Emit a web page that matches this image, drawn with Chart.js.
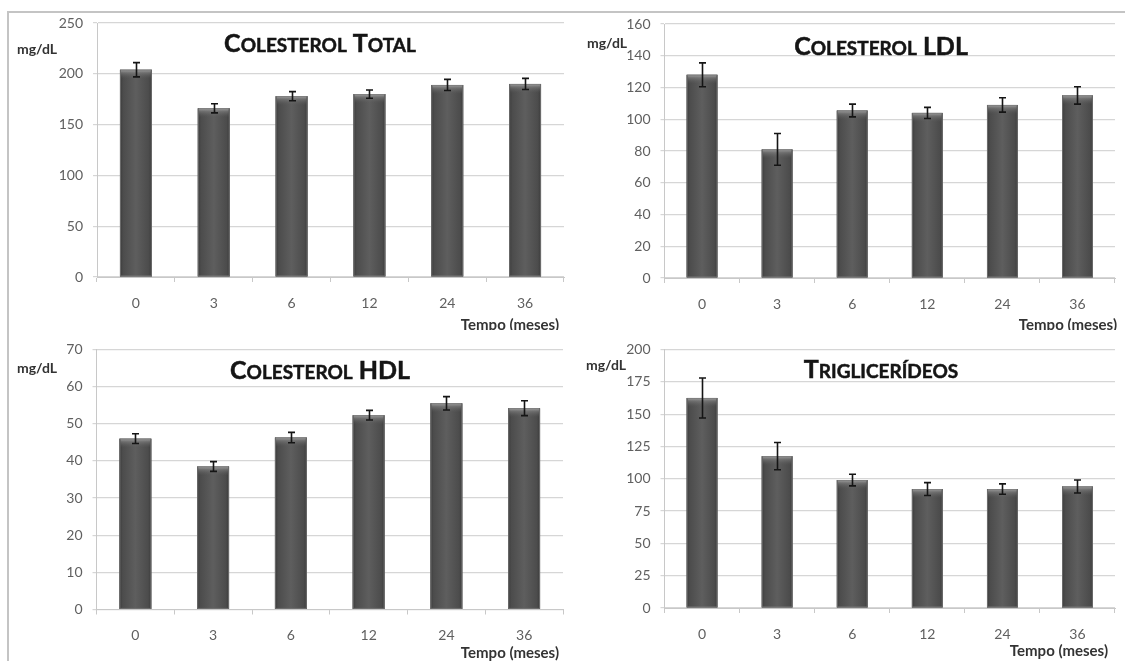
<!DOCTYPE html>
<html>
<head>
<meta charset="utf-8">
<script src="https://cdn.jsdelivr.net/npm/chart.js@4/dist/chart.umd.min.js"></script>
<style>
  html, body { margin: 0; padding: 0; background: #ffffff; }
  #wrap { position: relative; width: 1125px; height: 661px; overflow: hidden; background: #fff; }
  #frame { position: absolute; left: 7px; top: 11px; width: 1130px; height: 700px;
           border-top: 2px solid #c4c4c4; border-left: 2px solid #c4c4c4; }
  canvas { position: absolute; }
</style>
</head>
<body>
<div id="wrap">
  <div id="frame"></div>
  <canvas id="c1" width="570" height="330" style="left:0px;top:0px;width:570px;height:330px"></canvas>
  <canvas id="c2" width="565" height="330" style="left:560px;top:0px;width:565px;height:330px"></canvas>
  <canvas id="c3" width="570" height="331" style="left:0px;top:330px;width:570px;height:331px"></canvas>
  <canvas id="c4" width="565" height="331" style="left:560px;top:330px;width:565px;height:331px"></canvas>
</div>
<script>
// ---- data ----
const months = ['0', '3', '6', '12', '24', '36'];

const totalMeans = [204, 166, 178, 180, 189, 190];
const totalErrors = [7, 4.5, 4.5, 4, 5.5, 5.5];

const ldlMeans = [128, 81, 105.5, 104, 109, 115];
const ldlErrors = [7.5, 10, 4, 3.5, 4.5, 5.5];

const hdlMeans = [46, 38.5, 46.3, 52.3, 55.5, 54.2];
const hdlErrors = [1.3, 1.3, 1.4, 1.3, 1.8, 2];

const trigMeans = [162.5, 117.5, 99, 92, 92, 94];
const trigErrors = [15.5, 10.5, 4.5, 5, 4, 5];

const titles = ['Colesterol Total', 'Colesterol LDL', 'Colesterol HDL', 'Triglicerídeos'];
const unitLabel = 'mg/dL';
const xAxisLabel = 'Tempo (meses)';
const yMax = [250, 160, 70, 200];
const yStep = [50, 20, 10, 25];

const FAMILY = 'Lato, "Open Sans", sans-serif';

function drawSmallCaps(ctx, text, cx, cy, big, small) {
  const runs = [];
  for (const ch of text) {
    const up = ch.toUpperCase();
    const sz = (ch !== up) ? small : big;
    if (runs.length && runs[runs.length - 1].s === sz) runs[runs.length - 1].t += up;
    else runs.push({ t: up, s: sz });
  }
  let total = 0;
  runs.forEach(r => { ctx.font = `bold ${r.s}px ${FAMILY}`; r.w = ctx.measureText(r.t).width; total += r.w; });
  let x = cx - total / 2;
  const base = cy + big * 0.36;
  ctx.textBaseline = 'alphabetic';
  ctx.textAlign = 'left';
  runs.forEach(r => {
    ctx.font = `bold ${r.s}px ${FAMILY}`;
    ctx.fillText(r.t, x, base);
    ctx.lineWidth = 0.5;
    ctx.strokeStyle = ctx.fillStyle;
    ctx.strokeText(r.t, x, base);
    x += r.w;
  });
}

const decorPlugin = {
  id: 'decor',
  afterDatasetsDraw(chart, args, opts) {
    const ctx = chart.ctx;
    const meta = chart.getDatasetMeta(0);
    const yScale = chart.scales.y;
    ctx.save();
    // bar shading
    meta.data.forEach(el => {
      const p = el.getProps(['x', 'y', 'base', 'width'], true);
      const l = p.x - p.width / 2, w = p.width, h = p.base - p.y;
      const g = ctx.createLinearGradient(l, 0, l + w, 0);
      g.addColorStop(0, '#3b3b3b');
      g.addColorStop(0.1, '#4c4c4c');
      g.addColorStop(0.5, '#5e5e5e');
      g.addColorStop(0.9, '#4c4c4c');
      g.addColorStop(1, '#3b3b3b');
      ctx.fillStyle = g;
      ctx.fillRect(l, p.y, w, h);
      const g2 = ctx.createLinearGradient(0, p.y, 0, p.y + 9);
      g2.addColorStop(0, 'rgba(170,170,170,0.95)');
      g2.addColorStop(0.35, 'rgba(130,130,130,0.6)');
      g2.addColorStop(1, 'rgba(95,95,95,0)');
      ctx.fillStyle = g2;
      ctx.fillRect(l + 1, p.y, w - 2, 9);
      ctx.strokeStyle = 'rgba(120,120,120,0.8)';
      ctx.lineWidth = 1;
      ctx.strokeRect(l + 0.5, p.y + 0.5, w - 1, h - 1);
    });
    // error bars
    const errs = opts.errors;
    const vals = chart.data.datasets[0].data;
    ctx.strokeStyle = '#151515';
    ctx.lineWidth = 1.6;
    meta.data.forEach((el, i) => {
      const x = Math.round(el.x) + 0.5;
      const yTop = yScale.getPixelForValue(vals[i] + errs[i]);
      const yBot = yScale.getPixelForValue(vals[i] - errs[i]);
      ctx.beginPath();
      ctx.moveTo(x, yTop); ctx.lineTo(x, yBot);
      ctx.moveTo(x - 3.5, yTop); ctx.lineTo(x + 3.5, yTop);
      ctx.moveTo(x - 3.5, yBot); ctx.lineTo(x + 3.5, yBot);
      ctx.stroke();
    });
    // texts
    ctx.fillStyle = '#151515';
    drawSmallCaps(ctx, opts.title, opts.titleX, opts.titleY, 25, 19);
    ctx.fillStyle = '#333333';
    ctx.font = `bold 14px ${FAMILY}`;
    ctx.textAlign = 'left';
    ctx.textBaseline = 'middle';
    ctx.fillText(unitLabel, opts.unitX, opts.unitY);
    ctx.font = `bold 15px ${FAMILY}`;
    ctx.textAlign = 'right';
    ctx.fillText(xAxisLabel, opts.tempoX, opts.tempoY);
    ctx.restore();
  }
};

function makeChart(id, means, errors, k, area, deco) {
  const cv = document.getElementById(id);
  const W = cv.width, H = cv.height;
  return new Chart(cv, {
    type: 'bar',
    data: {
      labels: months,
      datasets: [{
        data: means,
        backgroundColor: '#555555',
        borderWidth: 0,
        barPercentage: 0.41,
        categoryPercentage: 1.0
      }]
    },
    options: {
      responsive: false,
      animation: false,
      events: [],
      layout: { padding: { left: 0, right: W - area.right, top: area.top, bottom: 0 } },
      plugins: {
        legend: { display: false },
        title: { display: false },
        tooltip: { enabled: false },
        decor: Object.assign({ errors: errors, title: titles[k] }, deco)
      },
      scales: {
        x: {
          grid: { display: true, drawOnChartArea: false, drawTicks: true, tickLength: 5, offset: true, color: '#c8c8c8' },
          border: { display: true, color: '#c8c8c8', width: 1 },
          ticks: { color: '#606060', font: { family: FAMILY, size: 14 }, padding: 13, maxRotation: 0 },
          afterFit(s) { s.height = H - area.bottom; }
        },
        y: {
          min: 0,
          max: yMax[k],
          ticks: { stepSize: yStep[k], color: '#606060', font: { family: FAMILY, size: 14 }, padding: 10 },
          grid: { color: '#d6d6d6', lineWidth: 1.2, tickLength: 4, drawTicks: true },
          border: { display: true, color: '#c8c8c8', width: 1 },
          afterFit(s) { s.width = area.left; }
        }
      }
    },
    plugins: [decorPlugin]
  });
}

makeChart('c1', totalMeans, totalErrors, 0,
  { left: 97, right: 564, top: 23, bottom: 277 },
  { titleX: 320, titleY: 43, unitX: 17, unitY: 49, tempoX: 559, tempoY: 325 });
makeChart('c2', ldlMeans, ldlErrors, 1,
  { left: 104.5, right: 555, top: 24, bottom: 278 },
  { titleX: 321, titleY: 46, unitX: 27, unitY: 43, tempoX: 557, tempoY: 325 });
makeChart('c3', hdlMeans, hdlErrors, 2,
  { left: 96.5, right: 563, top: 19.5, bottom: 279.5 },
  { titleX: 320, titleY: 40, unitX: 17, unitY: 38, tempoX: 559, tempoY: 323 });
makeChart('c4', trigMeans, trigErrors, 3,
  { left: 104.5, right: 555, top: 19.5, bottom: 278 },
  { titleX: 321, titleY: 39, unitX: 26, unitY: 35, tempoX: 548, tempoY: 321 });
</script>
</body>
</html>
